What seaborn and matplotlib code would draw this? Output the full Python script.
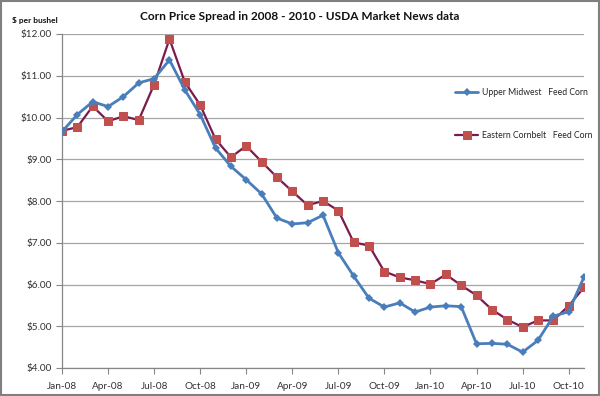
import pandas as pd
import matplotlib.pyplot as plt
import seaborn as sns
from matplotlib.patches import Rectangle

# monthly prices, Jan-08 .. Nov-10 ($ per bushel)
months = pd.date_range("2008-01-01", "2010-11-01", freq="MS")
upperMidwest = [9.66, 10.07, 10.38, 10.26, 10.50, 10.83, 10.93, 11.38, 10.66, 10.07,
                9.27, 8.83, 8.51, 8.17, 7.59, 7.45, 7.48, 7.66, 6.76, 6.20,
                5.67, 5.46, 5.56, 5.34, 5.46, 5.49, 5.47, 4.58, 4.59, 4.57,
                4.38, 4.66, 5.24, 5.35, 6.18]
easternCornbelt = [9.68, 9.77, 10.27, 9.91, 10.03, 9.94, 10.79, 11.88, 10.85, 10.30,
                   9.48, 9.05, 9.32, 8.94, 8.57, 8.23, 7.90, 8.00, 7.77, 7.01,
                   6.93, 6.31, 6.17, 6.10, 6.01, 6.24, 5.98, 5.74, 5.40, 5.16,
                   4.98, 5.14, 5.14, 5.49, 5.93]
tickLabels = ["Jan-08", "Apr-08", "Jul-08", "Oct-08", "Jan-09", "Apr-09",
              "Jul-09", "Oct-09", "Jan-10", "Apr-10", "Jul-10", "Oct-10"]
yTicks = [4, 5, 6, 7, 8, 9, 10, 11, 12]

df = pd.DataFrame({
    "m": range(len(months)),
    "Upper Midwest": upperMidwest,
    "Eastern Cornbelt": easternCornbelt,
})

sns.set_style("white")
plt.rcParams["font.family"] = ["Lato", "DejaVu Sans"]

fig = plt.figure(figsize=(6, 3.96), dpi=100)
ax = fig.add_axes([62 / 600, 1 - 368 / 396, 522 / 600, 334 / 396])

sns.lineplot(data=df, x="m", y="Upper Midwest", ax=ax, color="#4A7EBB",
             linewidth=2, marker="D", markersize=4, markeredgewidth=0,
             label="Upper Midwest   Feed Corn", zorder=3)
sns.lineplot(data=df, x="m", y="Eastern Cornbelt", ax=ax, color="#7B1A4E",
             linewidth=1.6, marker="s", markersize=6, markerfacecolor="#C0504D",
             markeredgecolor="#C0504D", label="Eastern Cornbelt   Feed Corn", zorder=2)

ax.set_xlim(0, len(months) - 1)
ax.set_ylim(4, 12)
ax.set_xticks(range(0, 36, 3))
ax.set_xticklabels(tickLabels)
ax.set_yticks(yTicks)
ax.set_yticklabels(["$%.2f" % v for v in yTicks])
ax.set_xlabel("")
ax.set_ylabel("")
ax.tick_params(axis="both", labelsize=7.2, colors="#333333", length=4,
               color="#868686", direction="out", bottom=True, left=True)
ax.tick_params(axis="x", pad=6)
ax.grid(axis="y", color="#A6A6A6", linewidth=0.9)
for k in ["top", "right"]:
    ax.spines[k].set_visible(False)
for k in ["left", "bottom"]:
    ax.spines[k].set_color("#868686")
    ax.spines[k].set_linewidth(0.9)

leg = ax.legend(loc="upper left", bbox_to_anchor=(455 / 600, 1 - 88 / 396),
                bbox_transform=fig.transFigure, frameon=False, fontsize=6.2,
                labelspacing=3.9, handlelength=2.7, handletextpad=0.4,
                borderpad=0, borderaxespad=0)

fig.text(0.5, 1 - 17 / 396, "Corn Price Spread in 2008 - 2010 - USDA Market News data",
         ha="center", va="center", fontsize=8.6, fontweight="bold", color="#111111")
fig.text(12 / 600, 1 - 20 / 396, "$ per bushel", ha="left", va="center",
         fontsize=6, fontweight="bold", color="#111111")

fig.patches.append(Rectangle((0.001, 0.002), 0.997, 0.996, transform=fig.transFigure,
                             fill=False, edgecolor="#808080", linewidth=1.5))

fig.savefig("out.png", dpi=100)
